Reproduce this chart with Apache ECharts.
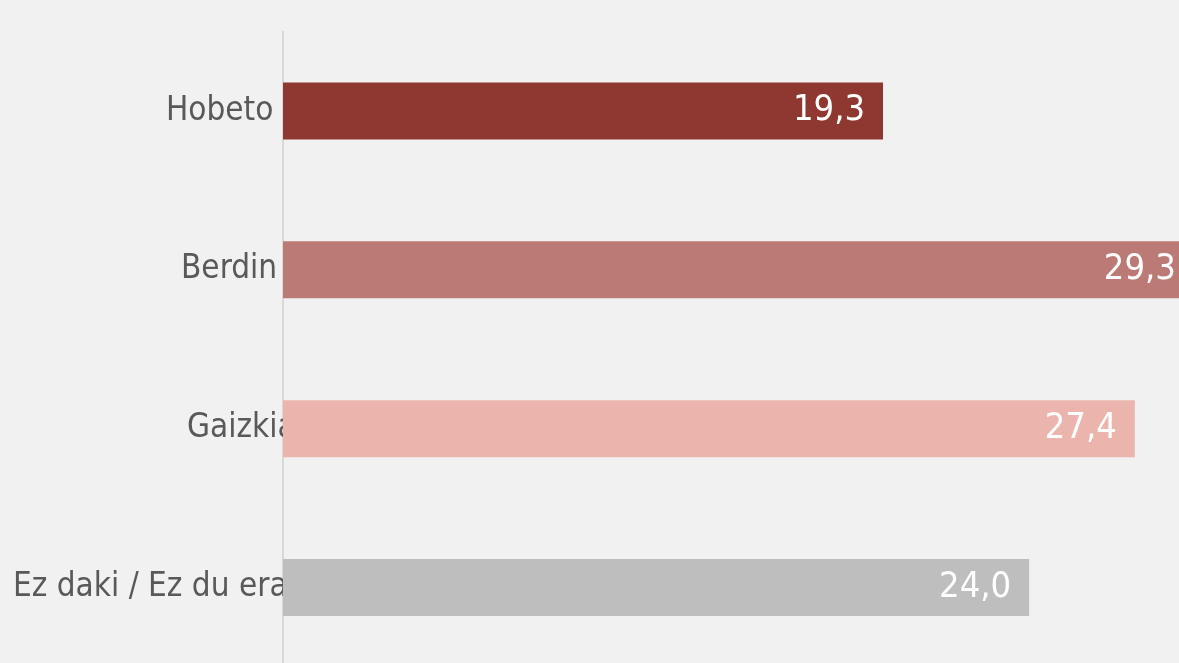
<!DOCTYPE html>
<html>
<head>
<meta charset="utf-8">
<script src="https://cdn.jsdelivr.net/npm/echarts@6/dist/echarts.min.js"></script>
<style>
html,body{margin:0;padding:0;background:#f1f1f1;overflow:hidden;}
#chart{width:1179px;height:667px;}
</style>
</head>
<body>
<div id="chart"></div>
<script>
const categories = ['Hobeto', 'Berdin', 'Gaizkiago', 'Ez daki / Ez du erantzun'];
const values = [19.3, 29.3, 27.4, 24.0];
const barColors = ['#8f3731', '#bb7a76', '#ebb5ad', '#bebebe'];
const labelIndent = [153, 168, 174, 0];

const FONT = '"DejaVu Sans Condensed", "DejaVu Sans", Tahoma, sans-serif';
const chart = echarts.init(document.getElementById('chart'), null, {renderer: 'canvas'});
const rich = {};
labelIndent.forEach((p, i) => {
  rich['c' + i] = {padding: [0, 0, 0, p], fontSize: 33, fontFamily: FONT, color: '#595959'};
});
chart.setOption({
  backgroundColor: '#f1f1f1',
  animation: false,
  grid: {left: 283, right: 0, top: 31.5, bottom: 0, containLabel: false},
  xAxis: {
    type: 'value', min: 0, max: 28.82, show: false
  },
  yAxis: {
    type: 'category', inverse: true, data: categories,
    axisLine: {show: true, lineStyle: {color: '#d9d9d9', width: 2}},
    axisTick: {show: false},
    splitLine: {show: false},
    axisLabel: {
      align: 'left', margin: 270,
      formatter: (v, i) => '{c' + i + '|' + v + '}',
      rich: rich
    }
  },
  series: [{
    type: 'bar',
    barWidth: 57,
    clip: false,
    data: values.map((v, i) => ({value: v, itemStyle: {color: barColors[i]}})),
    label: {
      show: true, position: 'insideRight', distance: 18,
      color: '#ffffff', fontSize: 36, fontFamily: FONT,
      formatter: p => p.value.toFixed(1).replace('.', ',')
    }
  }]
});
</script>
</body>
</html>
